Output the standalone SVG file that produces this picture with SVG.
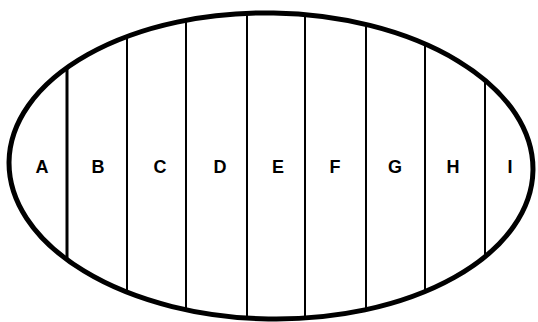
<svg xmlns="http://www.w3.org/2000/svg" width="538" height="322" viewBox="0 0 538 322">
  <style>
    .div { stroke: #000; stroke-width: 2; fill: none; }
    .div.thick { stroke-width: 3; }
    .lbl { font-family: "Liberation Sans", Arial, sans-serif; font-size: 18px; font-weight: bold; fill: #000; text-anchor: middle; }
  </style>
  <defs>
    <clipPath id="oval">
      <ellipse cx="271" cy="166" rx="262" ry="153" transform="rotate(1 271 166)"/>
    </clipPath>
  </defs>
  <rect width="538" height="322" fill="#fff"/>
  <g id="dividers" clip-path="url(#oval)">
    <line class="div thick" x1="67" y1="0" x2="67" y2="322"/>
    <line class="div" x1="127" y1="0" x2="127" y2="322"/>
    <line class="div" x1="186" y1="0" x2="186" y2="322"/>
    <line class="div" x1="247" y1="0" x2="247" y2="322"/>
    <line class="div" x1="305" y1="0" x2="305" y2="322"/>
    <line class="div" x1="366" y1="0" x2="366" y2="322"/>
    <line class="div" x1="425" y1="0" x2="425" y2="322"/>
    <line class="div" x1="485" y1="0" x2="485" y2="322"/>
  </g>
  <g id="outline">
    <ellipse cx="271" cy="166" rx="262" ry="153" transform="rotate(1 271 166)" fill="none" stroke="#000" stroke-width="5"/>
  </g>
  <g id="labels">
    <text class="lbl" x="42" y="173">A</text>
    <text class="lbl" x="98" y="173">B</text>
    <text class="lbl" x="160" y="173">C</text>
    <text class="lbl" x="220" y="173">D</text>
    <text class="lbl" x="278" y="173">E</text>
    <text class="lbl" x="335" y="173">F</text>
    <text class="lbl" x="395" y="173">G</text>
    <text class="lbl" x="453" y="173">H</text>
    <text class="lbl" x="510" y="173">I</text>
  </g>
</svg>
